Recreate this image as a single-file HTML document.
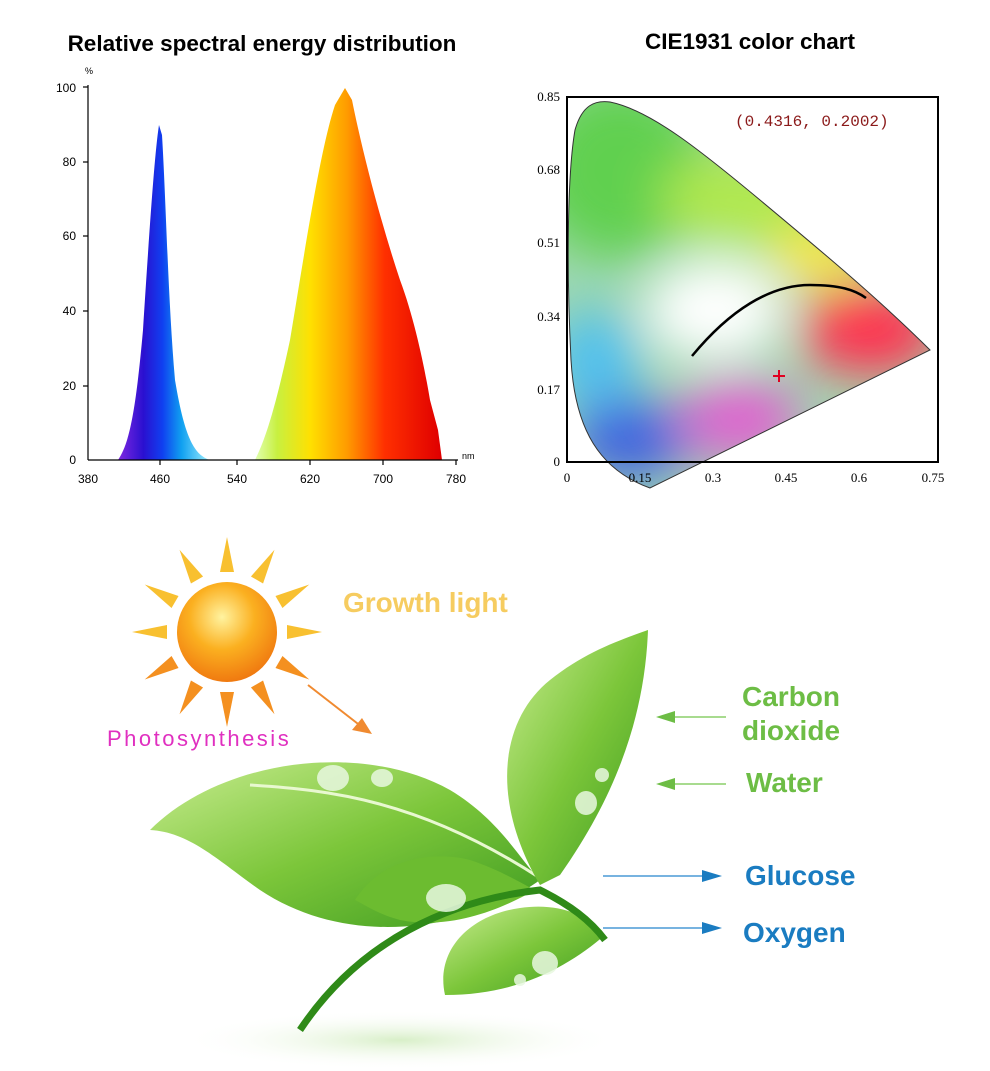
<!DOCTYPE html>
<html><head><meta charset="utf-8"><style>
html,body{margin:0;padding:0;background:#fff}
svg{display:block}
</style></head><body>
<svg width="990" height="1071" viewBox="0 0 990 1071" xmlns="http://www.w3.org/2000/svg" font-family="Liberation Sans, sans-serif">
<defs>
<linearGradient id="blueg" x1="115" x2="210" y1="0" y2="0" gradientUnits="userSpaceOnUse">
<stop offset="0" stop-color="#8a2be2"/><stop offset="0.3" stop-color="#2a10d0"/><stop offset="0.5" stop-color="#1040f0"/><stop offset="0.7" stop-color="#10a0f0"/><stop offset="1" stop-color="#a0f0ff"/></linearGradient>
<linearGradient id="redg" x1="255" x2="440" y1="0" y2="0" gradientUnits="userSpaceOnUse">
<stop offset="0" stop-color="#e0ffb0"/><stop offset="0.12" stop-color="#c8f040"/><stop offset="0.3" stop-color="#ffe000"/><stop offset="0.5" stop-color="#ff9a00"/><stop offset="0.7" stop-color="#ff3000"/><stop offset="1" stop-color="#e00000"/></linearGradient>
<clipPath id="cie"><path d="M650,488 C600,470 575,430 571,360 C566,260 568,170 575,130 C582,105 595,100 610,102 C650,110 700,150 760,200 C820,250 880,300 930,350 Z"/></clipPath>
<filter id="bl"><feGaussianBlur stdDeviation="25"/></filter>
<radialGradient id="sun" cx="0.45" cy="0.35" r="0.65"><stop offset="0" stop-color="#fff3a0"/><stop offset="0.5" stop-color="#fbb020"/><stop offset="1" stop-color="#f07a10"/></radialGradient>
<linearGradient id="leaf" x1="0" y1="0" x2="1" y2="1"><stop offset="0" stop-color="#c8ec90"/><stop offset="0.5" stop-color="#7cc63a"/><stop offset="1" stop-color="#3c9a20"/></linearGradient>
<radialGradient id="shadow"><stop offset="0" stop-color="#d8efc8"/><stop offset="1" stop-color="#fff" stop-opacity="0"/></radialGradient>
</defs>

<text x="262" y="51" font-size="22.5" font-weight="bold" text-anchor="middle">Relative spectral energy distribution</text>
<text x="750" y="49" font-size="22.5" font-weight="bold" text-anchor="middle">CIE1931 color chart</text>

<path d="M118,460 C128,445 135,420 143,330 C150,220 155,150 159,125 L162,135 C166,200 168,300 175,380 C185,440 195,455 210,460 Z" fill="url(#blueg)"/>
<path d="M255,460 C265,440 275,410 290,340 C305,250 320,150 335,105 L345,88 L352,100 C362,150 380,220 400,280 C415,320 425,370 430,400 L438,430 L442,460 Z" fill="url(#redg)"/>
<g stroke="#000" stroke-width="1.2" fill="none">
<line x1="88" y1="85" x2="88" y2="460"/><line x1="88" y1="460" x2="458" y2="460"/>
<line x1="83" y1="87" x2="88" y2="87"/><line x1="83" y1="162" x2="88" y2="162"/><line x1="83" y1="236" x2="88" y2="236"/><line x1="83" y1="311" x2="88" y2="311"/><line x1="83" y1="386" x2="88" y2="386"/>
<line x1="160" y1="460" x2="160" y2="465"/><line x1="237" y1="460" x2="237" y2="465"/><line x1="310" y1="460" x2="310" y2="465"/><line x1="383" y1="460" x2="383" y2="465"/><line x1="456" y1="460" x2="456" y2="465"/>
</g>
<g font-size="12" text-anchor="end">
<text x="76" y="92">100</text><text x="76" y="166">80</text><text x="76" y="240">60</text><text x="76" y="315">40</text><text x="76" y="390">20</text><text x="76" y="464">0</text>
</g>
<text x="85" y="74" font-size="9">%</text>
<text x="462" y="459" font-size="9">nm</text>
<g font-size="12" text-anchor="middle">
<text x="88" y="483">380</text><text x="160" y="483">460</text><text x="237" y="483">540</text><text x="310" y="483">620</text><text x="383" y="483">700</text><text x="456" y="483">780</text>
</g>

<g clip-path="url(#cie)">
<rect x="560" y="95" width="380" height="400" fill="#a0d8b0"/>
<g filter="url(#bl)">
<ellipse cx="620" cy="170" rx="90" ry="90" fill="#60d050"/>
<ellipse cx="740" cy="200" rx="80" ry="50" fill="#b0e850"/>
<ellipse cx="820" cy="255" rx="50" ry="30" fill="#ffe840"/>
<ellipse cx="595" cy="360" rx="45" ry="50" fill="#50c0f0"/>
<ellipse cx="630" cy="440" rx="60" ry="40" fill="#4060e0"/>
<ellipse cx="740" cy="420" rx="60" ry="40" fill="#e060d0"/>
<ellipse cx="870" cy="330" rx="70" ry="45" fill="#ff3050"/>
<ellipse cx="715" cy="310" rx="70" ry="50" fill="#ffffff"/>
</g>
</g>
<path d="M650,488 C600,470 575,430 571,360 C566,260 568,170 575,130 C582,105 595,100 610,102 C650,110 700,150 760,200 C820,250 880,300 930,350 Z" fill="none" stroke="#333" stroke-width="1"/>
<rect x="567" y="97" width="371" height="365" fill="none" stroke="#000" stroke-width="2"/>
<path d="M692,356 C730,310 770,285 810,285 C840,285 855,290 866,298" fill="none" stroke="#000" stroke-width="2.5"/>
<path d="M773,376 H785 M779,370 V382" stroke="#e00020" stroke-width="2"/>
<text x="735" y="126" font-size="16" fill="#8b1a1a" font-family="Liberation Mono, monospace">(0.4316, 0.2002)</text>
<g font-size="13" text-anchor="end" font-family="Liberation Serif, serif">
<text x="560" y="101">0.85</text><text x="560" y="174">0.68</text><text x="560" y="247">0.51</text><text x="560" y="321">0.34</text><text x="560" y="394">0.17</text><text x="560" y="466">0</text>
</g>
<g font-size="13" text-anchor="middle" font-family="Liberation Serif, serif">
<text x="567" y="482">0</text><text x="640" y="482">0.15</text><text x="713" y="482">0.3</text><text x="786" y="482">0.45</text><text x="859" y="482">0.6</text><text x="933" y="482">0.75</text>
</g>

<g transform="translate(227,632)" fill="#f8c030">
<polygon points="-7,-60 0,-95 7,-60"/>
<polygon points="-7,-60 0,-95 7,-60" transform="rotate(30)"/>
<polygon points="-7,-60 0,-95 7,-60" transform="rotate(60)"/>
<polygon points="-7,-60 0,-95 7,-60" transform="rotate(90)"/>
<polygon points="-7,-60 0,-95 7,-60" transform="rotate(120)" fill="#f49020"/>
<polygon points="-7,-60 0,-95 7,-60" transform="rotate(150)" fill="#f49020"/>
<polygon points="-7,-60 0,-95 7,-60" transform="rotate(180)" fill="#f49020"/>
<polygon points="-7,-60 0,-95 7,-60" transform="rotate(210)" fill="#f49020"/>
<polygon points="-7,-60 0,-95 7,-60" transform="rotate(240)" fill="#f49020"/>
<polygon points="-7,-60 0,-95 7,-60" transform="rotate(270)"/>
<polygon points="-7,-60 0,-95 7,-60" transform="rotate(300)"/>
<polygon points="-7,-60 0,-95 7,-60" transform="rotate(330)"/>
<circle r="50" fill="url(#sun)"/>
</g>
<text x="343" y="612" font-size="28" font-weight="bold" fill="#f6cc60">Growth light</text>
<text x="107" y="746" font-size="22" fill="#e030c0" letter-spacing="2.5">Photosynthesis</text>
<path d="M308,685 L362,727" stroke="#f08a30" stroke-width="2"/>
<polygon points="372,734 352,730 362,718" fill="#f08a30"/>

<ellipse cx="400" cy="1040" rx="220" ry="30" fill="url(#shadow)"/>
<path d="M150,830 C220,760 360,740 450,790 C500,820 520,860 540,880 C470,930 350,950 260,890 C220,862 190,832 150,830 Z" fill="url(#leaf)"/>
<path d="M250,785 C330,790 420,800 540,878" stroke="#e8f8d0" stroke-width="3" fill="none"/>
<path d="M540,885 C490,800 500,720 550,680 C585,652 620,640 648,630 C645,710 620,790 560,875 Z" fill="url(#leaf)"/>
<path d="M355,900 C380,860 430,850 470,860 C500,870 515,880 535,890 C500,910 450,930 400,920 C380,915 365,905 355,900 Z" fill="#6cbc30"/>
<path d="M445,995 C435,950 470,915 520,908 C555,903 585,912 605,935 C570,965 520,995 445,995 Z" fill="url(#leaf)"/>
<path d="M300,1030 C360,940 450,900 540,890 C570,905 590,920 605,940" stroke="#2f8a18" stroke-width="7" fill="none"/>
<g fill="#e8f8e0" opacity="0.85">
<ellipse cx="333" cy="778" rx="16" ry="13"/><ellipse cx="382" cy="778" rx="11" ry="9"/><ellipse cx="586" cy="803" rx="11" ry="12"/><ellipse cx="602" cy="775" rx="7" ry="7"/><ellipse cx="446" cy="898" rx="20" ry="14"/><ellipse cx="545" cy="963" rx="13" ry="12"/><ellipse cx="520" cy="980" rx="6" ry="6"/>
</g>

<text x="742" y="706" font-size="28" font-weight="bold" fill="#6dbd45">Carbon</text>
<text x="742" y="740" font-size="28" font-weight="bold" fill="#6dbd45">dioxide</text>
<text x="746" y="792" font-size="28" font-weight="bold" fill="#6dbd45">Water</text>
<g stroke="#8ccf6a" stroke-width="1.5"><line x1="670" y1="717" x2="726" y2="717"/><line x1="670" y1="784" x2="726" y2="784"/></g>
<polygon points="656,717 675,711 675,723" fill="#6dbd45"/><polygon points="656,784 675,778 675,790" fill="#6dbd45"/>
<text x="745" y="885" font-size="28" font-weight="bold" fill="#1a7cc1">Glucose</text>
<text x="743" y="942" font-size="28" font-weight="bold" fill="#1a7cc1">Oxygen</text>
<g stroke="#4a9ad6" stroke-width="1.5"><line x1="603" y1="876" x2="705" y2="876"/><line x1="603" y1="928" x2="705" y2="928"/></g>
<polygon points="722,876 702,870 702,882" fill="#1a7cc1"/><polygon points="722,928 702,922 702,934" fill="#1a7cc1"/>
</svg>
</body></html>
